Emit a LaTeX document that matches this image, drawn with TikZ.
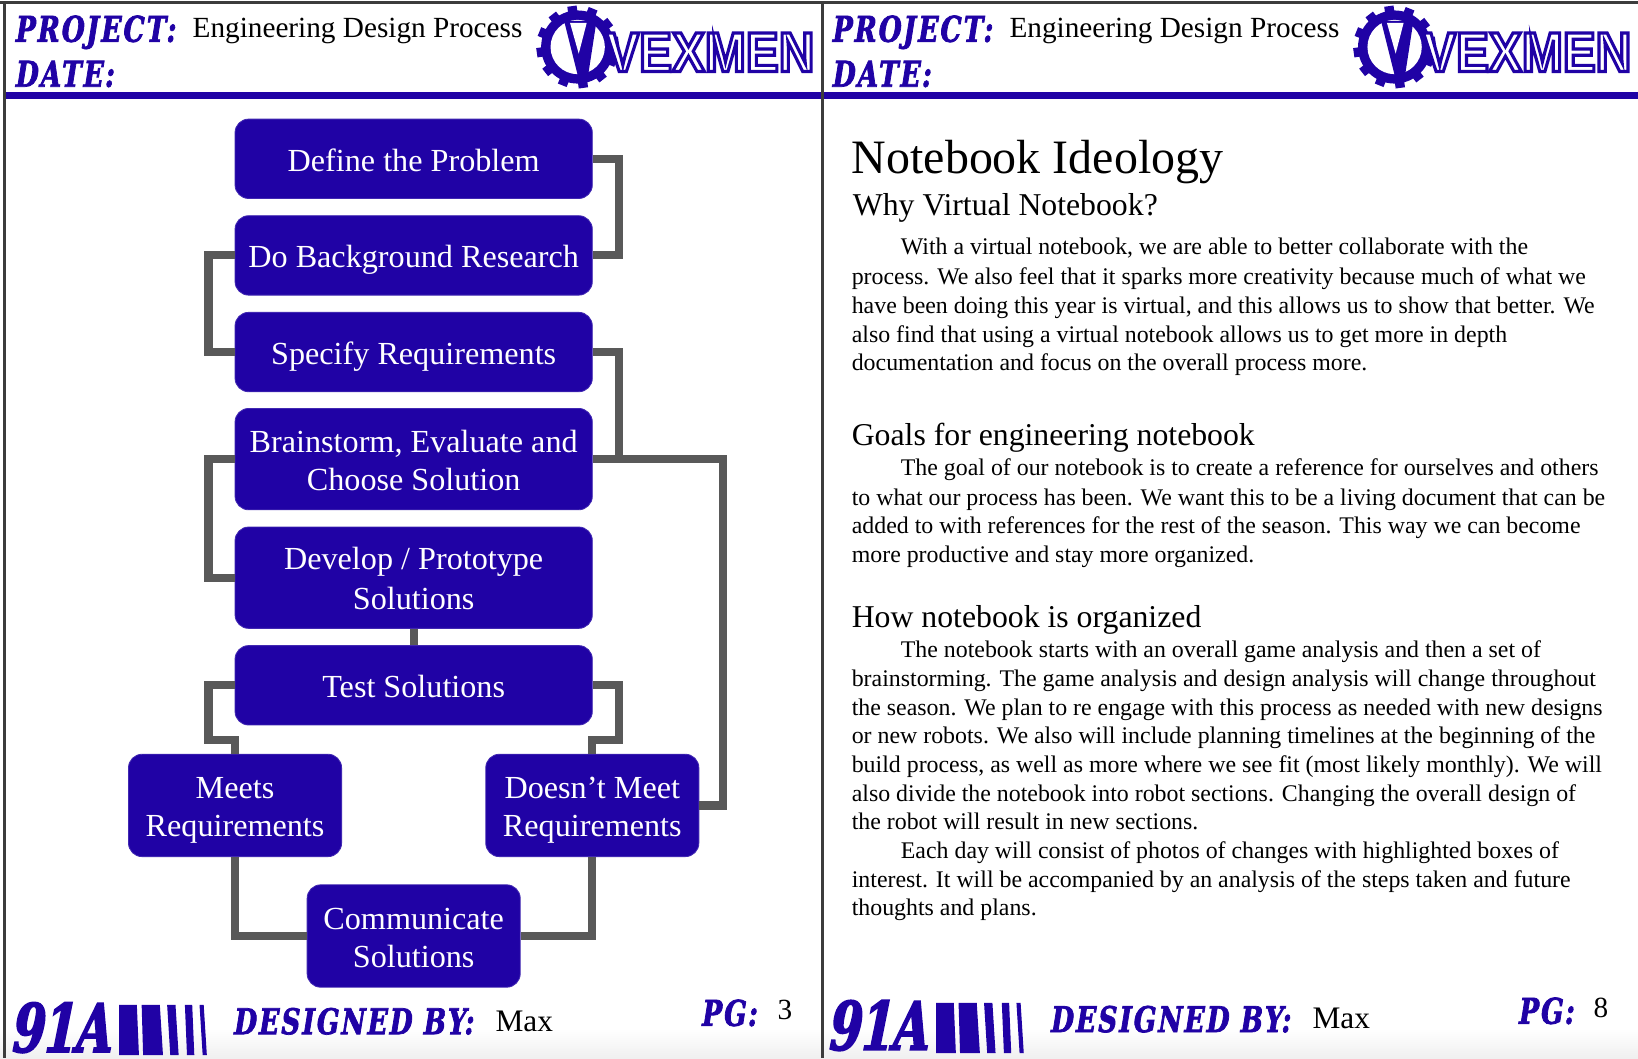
\documentclass[tikz,border=0pt]{standalone}
\usepackage{fontspec}
\setmainfont{Liberation Serif}
\newfontfamily\coll{DejaVu Serif}[FakeStretch=0.74,FakeSlant=0.16,LetterSpace=6,FakeBold=2]
\newfontfamily\collteam{DejaVu Serif}[FakeStretch=0.7,FakeSlant=0.2,LetterSpace=-1,FakeBold=2.5]
\newfontfamily\vexfont{Liberation Sans}[FakeStretch=0.88]
\definecolor{vexblue}{RGB}{32,2,165}
\definecolor{linegray}{RGB}{89,89,89}
\definecolor{framegray}{RGB}{60,60,60}
\newcommand{\boxstrut}{\rule[-3.15pt]{0pt}{18pt}}
\usetikzlibrary{calc}
\tikzset{
  stepbox/.style={draw=vexblue!85!white,line width=0.4pt,fill=vexblue,rounded corners=6.5pt,text=white,align=center,inner sep=0pt,
    font=\fontsize{15.4}{18}\selectfont,minimum width=171pt,minimum height=38pt},
  tallbox/.style={stepbox,minimum height=48.5pt},
  sidebox/.style={stepbox,minimum width=102pt,minimum height=49pt,font=\fontsize{15.4}{18.4}\selectfont},
  link/.style={draw=linegray,line width=3.9pt,line join=miter},
  collhead/.style={anchor=base west,inner sep=0pt,text=vexblue,font=\fontsize{17}{20}\selectfont\coll\bfseries},
  plain/.style={anchor=base west,inner sep=0pt,text=black,font=\fontsize{14}{17}\selectfont},
  signed/.style={anchor=base west,inner sep=0pt,text=black,font=\fontsize{15}{17}\selectfont},
  bodyline/.style={anchor=base west,inner sep=0pt,text=black,font=\fontsize{11.42}{14}\selectfont},
  subhead/.style={anchor=base west,inner sep=0pt,text=black,font=\fontsize{15.2}{18}\selectfont},
  bigtitle/.style={anchor=base west,inner sep=0pt,text=black,font=\fontsize{22.95}{26}\selectfont},
  framerule/.style={draw=framegray,line width=1.5pt},
}
\newcommand{\pagedeco}[8]{%
  \begin{scope}[xshift=#2*0.5pt]
    \node[collhead] (#1proj) at (13,-40) {PROJECT:};
    \node[collhead] (#1date) at (13,-83) {DATE:};
    \node[plain] (#1title) at (#5,-36) {Engineering Design Process};
  \end{scope}
  \begin{scope}[xshift=#6*0.5pt]
    \foreach \a in {0,30,...,359}{
      \fill[vexblue,rotate around={\a+8:(553,-45)}] (548.5,-45) rectangle (557.5,-5.5);
    }
    \fill[vexblue] (553,-45) circle[radius=35];
    \fill[white] (553,-45) circle[radius=26];
    \fill[vexblue] (540,-20) -- (571,-20) -- (563,-72) -- (553,-72) -- cycle;
    \fill[white] (545.7,-22) -- (561.6,-22) -- (554,-51.4) -- cycle;
    \node[anchor=base west,inner sep=0pt,text=vexblue,font=\fontsize{26.8}{30}\selectfont\vexfont\bfseries] (#1vex) at (580,-68.5)
      {\special{pdf:code 2 Tr 1.5 w 1 1 1 rg}VEXMEN\special{pdf:code 0 Tr}};
  \end{scope}
  \begin{scope}[xshift=#8*0.5pt,yshift=#3*0.5pt]
    \node[collhead,font=\fontsize{32}{36}\selectfont\collteam\bfseries] (#1team) at (8,-1007) {91A};
    \fill[vexblue] (114,-962) -- (131,-962) -- (133,-1010) -- (114,-1010) -- cycle;
    \fill[vexblue] (135.6,-962) -- (153,-962) -- (156,-1010) -- (137,-1010) -- cycle;
    \fill[vexblue] (160,-962) -- (168,-962) -- (171,-1010) -- (163,-1010) -- cycle;
    \fill[vexblue] (177,-962) -- (184,-962) -- (186,-1010) -- (179,-1010) -- cycle;
    \fill[vexblue] (191,-962) -- (195,-962) -- (198,-1010) -- (194,-1010) -- cycle;
    \node[collhead] (#1des) at (222,-990) {DESIGNED BY:};
    \node[signed] (#1max) at (474,-987) {Max};
    \node[collhead] (#1pg) at (670,-982) {PG:};
    \node[plain] (#1num) at (#7,-976) {#4};
  \end{scope}
}
\begin{document}
\begin{tikzpicture}[x=0.5pt,y=0.5pt]
\useasboundingbox (0,0) rectangle (1568,-1012.8);
\fill[white] (0,0) rectangle (1568,-1012.8);
\shade[top color=white,bottom color=black!6] (0,-985) rectangle (1568,-1012.8);
\fill[vexblue] (4,-88) rectangle (1568,-95);
\draw[framerule] (4.5,-3) -- (4.5,-1012.8);
\draw[framerule] (0,-2.5) -- (1568,-2.5);
\draw[framerule] (787,-3) -- (787,-1012.8);
\pagedeco{l}{0}{0}{3}{184}{0}{744}{0}
\pagedeco{r}{782}{2}{8}{184}{782}{743}{782}

% flow boxes
\node[stepbox] (def) at (396,-152) {\boxstrut Define the Problem};
\node[stepbox] (bg) at (396,-244.5) {\boxstrut Do Background Research};
\node[stepbox] (spec) at (396,-337) {\boxstrut Specify Requirements};
\node[tallbox] (brain) at (396,-439.5) {\boxstrut Brainstorm, Evaluate and\\\boxstrut Choose Solution};
\node[tallbox] (dev) at (396,-553) {\boxstrut Develop / Prototype\\\boxstrut Solutions};
\node[stepbox] (test) at (396,-656) {\boxstrut Test Solutions};
\node[sidebox] (meets) at (225,-771) {\boxstrut Meets\\\boxstrut Requirements};
\node[sidebox] (nomeet) at (567,-771) {\boxstrut Doesn’t Meet\\\boxstrut Requirements};
\node[sidebox] (comm) at (396,-896) {\boxstrut Communicate\\\boxstrut Solutions};

% connectors
\draw[link] (def.east) -- ++(25,0) |- (bg.east);
\draw[link] (bg.west) -- ++(-25,0) |- (spec.west);
\draw[link] (spec.east) -- ++(25,0) |- (brain.east);
\draw[link] (brain.east) -- ++(125,0) |- (nomeet.east);
\draw[link] (brain.west) -- ++(-25,0) |- (dev.west);
\draw[link] (dev.south) -- (test.north);
\draw[link] (test.west) -- ++(-25,0) -- ++(0,-52) -| (meets.north);
\draw[link] (test.east) -- ++(25,0) -- ++(0,-52) -| (nomeet.north);
\draw[link] (meets.south) |- (comm.west);
\draw[link] (nomeet.south) |- (comm.east);

% right page text
\node[bigtitle] (t0) at (815,-166.5) {Notebook Ideology};
\node[subhead] (h1) at (816,-206) {Why Virtual Notebook?};
\node[bodyline] (a1) at (862,-243.5) {With a virtual notebook, we are able to better collaborate with the};
\node[bodyline] (a2) at (815,-272.5) {process. We also feel that it sparks more creativity because much of what we};
\node[bodyline] (a3) at (815,-300.5) {have been doing this year is virtual, and this allows us to show that better. We};
\node[bodyline] (a4) at (815,-327.5) {also find that using a virtual notebook allows us to get more in depth};
\node[bodyline] (a5) at (815,-355) {documentation and focus on the overall process more.};
\node[subhead] (h2) at (815,-426.5) {Goals for engineering notebook};
\node[bodyline] (b1) at (862,-455.5) {The goal of our notebook is to create a reference for ourselves and others};
\node[bodyline] (b2) at (815,-483.5) {to what our process has been. We want this to be a living document that can be};
\node[bodyline] (b3) at (815,-510.5) {added to with references for the rest of the season. This way we can become};
\node[bodyline] (b4) at (815,-538) {more productive and stay more organized.};
\node[subhead] (h3) at (815,-600.5) {How notebook is organized};
\node[bodyline] (c1) at (862,-629.5) {The notebook starts with an overall game analysis and then a set of};
\node[bodyline] (c2) at (815,-657) {brainstorming. The game analysis and design analysis will change throughout};
\node[bodyline] (c3) at (815,-684.5) {the season. We plan to re engage with this process as needed with new designs};
\node[bodyline] (c4) at (815,-712) {or new robots. We also will include planning timelines at the beginning of the};
\node[bodyline] (c5) at (815,-739.5) {build process, as well as more where we see fit (most likely monthly). We will};
\node[bodyline] (c6) at (815,-767) {also divide the notebook into robot sections. Changing the overall design of};
\node[bodyline] (c7) at (815,-794.5) {the robot will result in new sections.};
\node[bodyline] (c8) at (862,-822) {Each day will consist of photos of changes with highlighted boxes of};
\node[bodyline] (c9) at (815,-849.5) {interest. It will be accompanied by an analysis of the steps taken and future};
\node[bodyline] (c10) at (815,-876.5) {thoughts and plans.};
\end{tikzpicture}
\end{document}
